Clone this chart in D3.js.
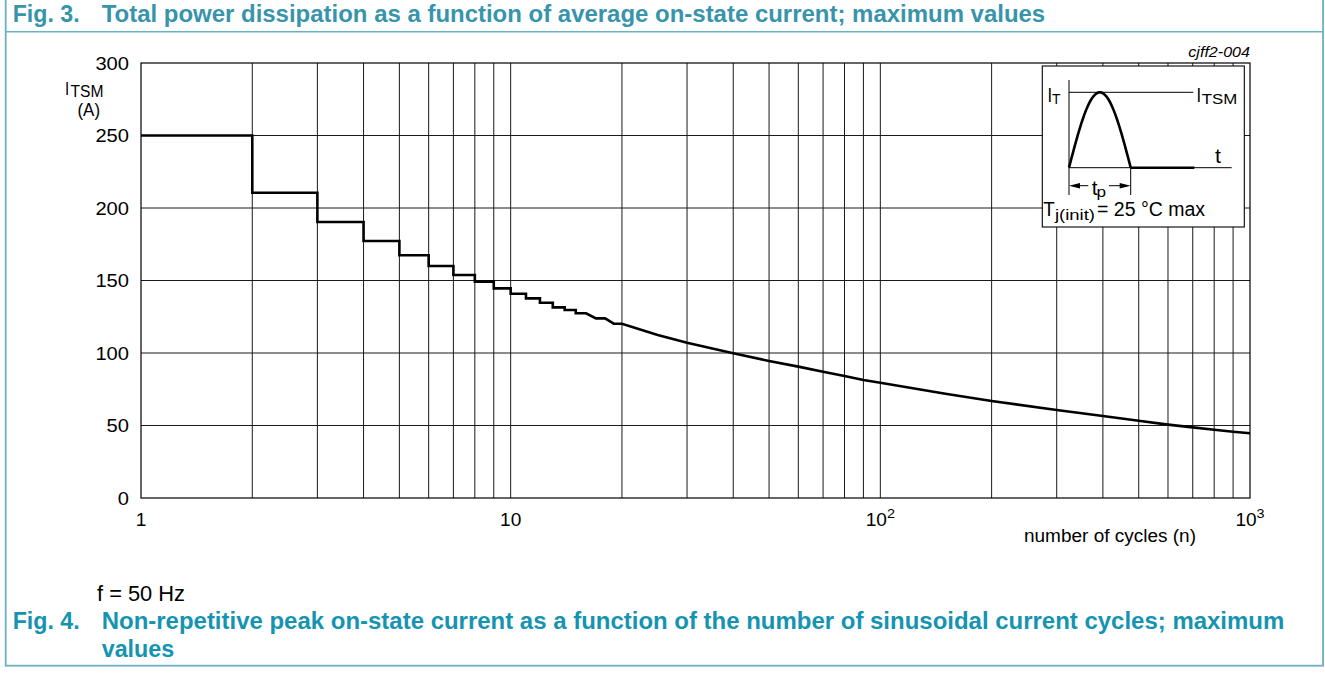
<!DOCTYPE html>
<html><head><meta charset="utf-8">
<script src="https://cdn.jsdelivr.net/npm/d3@7/dist/d3.min.js"></script>
<style>html,body{margin:0;padding:0;background:#fff;} svg{display:block;}</style>
</head><body>
<svg id="c" width="1325" height="675"></svg>
<script>
// ---- data ----
const cycles = [1,2,2,3,3,4,4,5,5,6,6,7,7,8,8,9,9,10,10,11,11,12,12,13,13,14,14,15,15,16,17,18,19,20,
                25,30,40,50,60,70,80,90,100,150,200,300,400,500,600,700,800,900,1000];
const currentA = [250,250,210.5,210.5,190.3,190.3,177.2,177.2,167.4,167.4,160,160,153.8,153.8,149.2,149.2,144.6,144.6,
                  140.9,140.9,137.7,137.7,134.7,134.7,131.5,131.5,129.7,129.7,127.4,127.4,123.9,123.9,120.2,120.2,
                  112.4,107.1,99.8,94.5,90.6,87.1,84.1,81.4,79.5,71.9,66.9,60.7,56.6,53.3,50.6,48.7,47.1,45.7,44.6];
const yTicks = [0,50,100,150,200,250,300];
const xDecades = [1,10,100,1000];
const xTickBase = ["1","10","10","10"];
const xTickExp = ["","","2","3"];

const FONT = "'Liberation Sans', Arial, Helvetica, sans-serif";
const svg = d3.select("#c");

const x = d3.scaleLog().domain([1,1000]).range([141,1250]);
const y = d3.scaleLinear().domain([0,300]).range([498,63]);

function T(g, s, px, py, o) {
  const t = g.append("text").attr("x", px).attr("y", py).text(s)
    .attr("font-family", FONT).attr("font-size", o.size || 16)
    .attr("fill", o.fill || "#000");
  if (o.weight) t.attr("font-weight", o.weight);
  if (o.style) t.attr("font-style", o.style);
  if (o.anchor) t.attr("text-anchor", o.anchor);
  if (o.len) t.attr("textLength", o.len).attr("lengthAdjust", "spacingAndGlyphs");
  return t;
}

// ---- frame ----
const frameCol = "#6cb1c3";
svg.append("rect").attr("x",5.7).attr("y",-5).attr("width",1317.3).attr("height",670.7)
  .attr("fill","none").attr("stroke",frameCol).attr("stroke-width",1.8);
svg.append("line").attr("x1",5.7).attr("x2",1323).attr("y1",31.7).attr("y2",31.7)
  .attr("stroke",frameCol).attr("stroke-width",1.6);

// ---- titles ----
const t3 = "#3894ab", t4 = "#1594b2";
T(svg, "Fig. 3.", 12.7, 21.7, {size:23.5, weight:"bold", fill:t3, len:67});
T(svg, "Total power dissipation as a function of average on-state current; maximum values", 101.7, 21.7,
  {size:23.5, weight:"bold", fill:t3, len:943.5});
T(svg, "Fig. 4.", 12.7, 629.3, {size:23.5, weight:"bold", fill:t4, len:67});
T(svg, "Non-repetitive peak on-state current as a function of the number of sinusoidal current cycles; maximum", 101.7, 629.3,
  {size:23.5, weight:"bold", fill:t4, len:1182.6});
T(svg, "values", 101.7, 657.3, {size:23.5, weight:"bold", fill:t4, len:72.5});
T(svg, "f = 50 Hz", 97, 601, {size:22.5, len:88});

// ---- grid ----
const g = svg.append("g");
const xGrid = x.ticks().filter(v => v > 1 && v < 1000);
g.selectAll("line.vx").data(xGrid).join("line")
  .attr("x1", d => x(d)).attr("x2", d => x(d)).attr("y1", y(300)).attr("y2", y(0))
  .attr("stroke", "#1a1a1a").attr("stroke-width", 1);
g.selectAll("line.hy").data(yTicks.filter(v => v > 0 && v < 300)).join("line")
  .attr("y1", d => y(d)).attr("y2", d => y(d)).attr("x1", x(1)).attr("x2", x(1000))
  .attr("stroke", "#1a1a1a").attr("stroke-width", 1);
g.append("rect").attr("x", x(1)).attr("y", y(300)).attr("width", x(1000)-x(1)).attr("height", y(0)-y(300))
  .attr("fill","none").attr("stroke","#000").attr("stroke-width",1.2);

// ---- curve ----
const pts = cycles.map((n,i) => [n, currentA[i]]);
g.append("path").datum(pts)
  .attr("d", d3.line().x(d => x(d[0])).y(d => y(d[1])))
  .attr("fill","none").attr("stroke","#000").attr("stroke-width",2.6).attr("stroke-linejoin","miter");

// ---- y tick labels ----
yTicks.forEach(v => {
  const s = String(v);
  T(svg, s, 129, y(v)+6.5, {size:19, anchor:"end", len:11.2*s.length});
});
// ---- x tick labels ----
xDecades.forEach((v,i) => {
  const base = xTickBase[i], ex = xTickExp[i];
  const wb = 10.6*base.length, we = ex ? 8 : 0;
  const left = x(v) - (wb+we)/2;
  T(svg, base, left, 526, {size:19, len:wb});
  if (ex) T(svg, ex, left+wb, 517.5, {size:13.5, len:we});
});
// axis titles
T(svg, "number of cycles (n)", 1024, 542, {size:18, len:172});
T(svg, "I", 65, 95, {size:18.5, len:4.2});
T(svg, "TSM", 70.5, 96.8, {size:16, len:33});
T(svg, "(A)", 77.5, 115.5, {size:19, len:22.5});
T(svg, "cjff2-004", 1250, 57.3, {size:14, style:"italic", anchor:"end", len:61.7});

// ---- inset ----
const ins = svg.append("g");
const bx0 = 1042.3, by0 = 66, bx1 = 1244.3, by1 = 227;
ins.append("rect").attr("x",bx0).attr("y",by0).attr("width",bx1-bx0).attr("height",by1-by0)
  .attr("fill","#fff").attr("stroke","#000").attr("stroke-width",1.1);
const ax0 = 1069, base = 167.7, peak = 92.3, pEnd = 1130.7;
// axes
ins.append("line").attr("x1",ax0).attr("x2",ax0).attr("y1",80).attr("y2",195).attr("stroke","#000").attr("stroke-width",1);
ins.append("line").attr("x1",ax0).attr("x2",1231.7).attr("y1",base).attr("y2",base).attr("stroke","#000").attr("stroke-width",1);
ins.append("line").attr("x1",ax0).attr("x2",1193.3).attr("y1",peak).attr("y2",peak).attr("stroke","#000").attr("stroke-width",1);
ins.append("line").attr("x1",pEnd).attr("x2",1194.3).attr("y1",base).attr("y2",base).attr("stroke","#000").attr("stroke-width",2.5);
ins.append("line").attr("x1",pEnd).attr("x2",pEnd).attr("y1",base).attr("y2",195).attr("stroke","#000").attr("stroke-width",1);
// half sine
const sp = d3.range(0, 41).map(k => k/40);
ins.append("path").datum(sp)
  .attr("d", d3.line().x(u => ax0 + u*(pEnd-ax0)).y(u => base - Math.sin(Math.PI*u)*(base-peak)))
  .attr("fill","none").attr("stroke","#000").attr("stroke-width",2.6);
// tp arrows
const ay = 185.7;
ins.append("line").attr("x1",ax0+4).attr("x2",1088.3).attr("y1",ay).attr("y2",ay).attr("stroke","#000").attr("stroke-width",1);
ins.append("line").attr("x1",1109).attr("x2",pEnd-4).attr("y1",ay).attr("y2",ay).attr("stroke","#000").attr("stroke-width",1);
ins.append("path").attr("d",`M${ax0},${ay}L${ax0+11},${ay-2.8}L${ax0+11},${ay+2.8}Z`).attr("fill","#000");
ins.append("path").attr("d",`M${pEnd},${ay}L${pEnd-11},${ay-2.8}L${pEnd-11},${ay+2.8}Z`).attr("fill","#000");
// inset texts
T(ins, "I", 1047.5, 102, {size:20, len:4.6});
T(ins, "T", 1052, 104, {size:15, len:8.5});
T(ins, "I", 1196.5, 102, {size:20, len:4.6});
T(ins, "TSM", 1201.7, 104, {size:15, len:35.5});
T(ins, "t", 1215, 162.7, {size:20, len:6});
T(ins, "t", 1091.7, 195, {size:20, len:5.8});
T(ins, "p", 1096.5, 197, {size:15, len:9.5});
T(ins, "T", 1043.3, 215.5, {size:20, len:11.5});
T(ins, "j(init)", 1055, 219.5, {size:15, len:40});
T(ins, "= 25 °C max", 1097, 215.5, {size:20, len:108});
</script>
</body></html>
